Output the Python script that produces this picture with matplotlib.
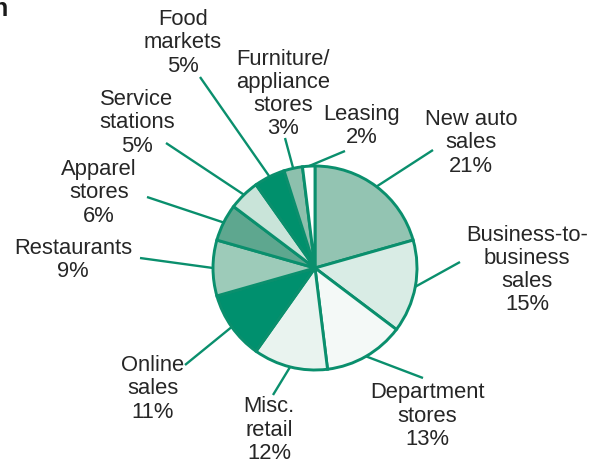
import numpy as np
import matplotlib.pyplot as plt

# Retail sales shares (percent), clockwise from 12 o'clock
categories = ["New auto\nsales", "Business-to-\nbusiness\nsales", "Department\nstores",
              "Misc.\nretail", "Online\nsales", "Restaurants", "Apparel\nstores",
              "Service\nstations", "Food\nmarkets", "Furniture/\nappliance\nstores", "Leasing"]
shares = [21, 15, 13, 12, 11, 9, 6, 5, 5, 3, 2]

colors = ["#93c4b2", "#d9ece5", "#f4f9f7", "#e9f3ef", "#00906e", "#9dcbb9",
          "#5ea78f", "#c9e4d9", "#00906c", "#8dc0ad", "#ffffff"]
green = "#0a8f6d"

# label centres and leader-line outer ends, in image pixels (x, y from top)
label_pos = [(471, 143), (527, 270), (427, 416), (269, 430), (153, 389), (73, 260),
             (99, 193), (137, 123), (183, 43), (283, 94), (362, 126)]
line_end = [(433, 150), (460, 262), (423, 378), (273, 395), (185, 365), (140, 258),
            (147, 197), (166, 143), (200, 77), (285, 138), (345, 151)]

W, H = 605, 459
fig = plt.figure(figsize=(W / 100, H / 100), dpi=100)
ax = fig.add_axes([0, 0, 1, 1])

cx, cy, r = 315, H - 268, 102
wedges, _ = ax.pie(shares, colors=colors, startangle=90, counterclock=False,
                   center=(cx, cy), radius=r, frame=True,
                   wedgeprops=dict(edgecolor=green, linewidth=2.1))

for w, cat, val, (tx, ty), (lx, ly) in zip(wedges, categories, shares, label_pos, line_end):
    mid = np.deg2rad((w.theta1 + w.theta2) / 2)
    ex, ey = cx + r * np.cos(mid), cy + r * np.sin(mid)
    ax.plot([ex, lx], [ey, H - ly], color=green, lw=1.7, solid_capstyle="butt", zorder=0)
    ax.text(tx, H - ty, f"{cat}\n{val}%", ha="center", va="center", fontsize=15.8,
            family="Liberation Sans", color="#262626", linespacing=1.13)

ax.text(-8, H - 16, "n", fontsize=18, fontweight="bold", family="Liberation Sans",
        ha="left", va="baseline", color="#1a1a1a")

ax.set_xlim(0, W)
ax.set_ylim(0, H)
ax.set_aspect("auto")
ax.axis("off")
fig.savefig("out.png", dpi=100)
